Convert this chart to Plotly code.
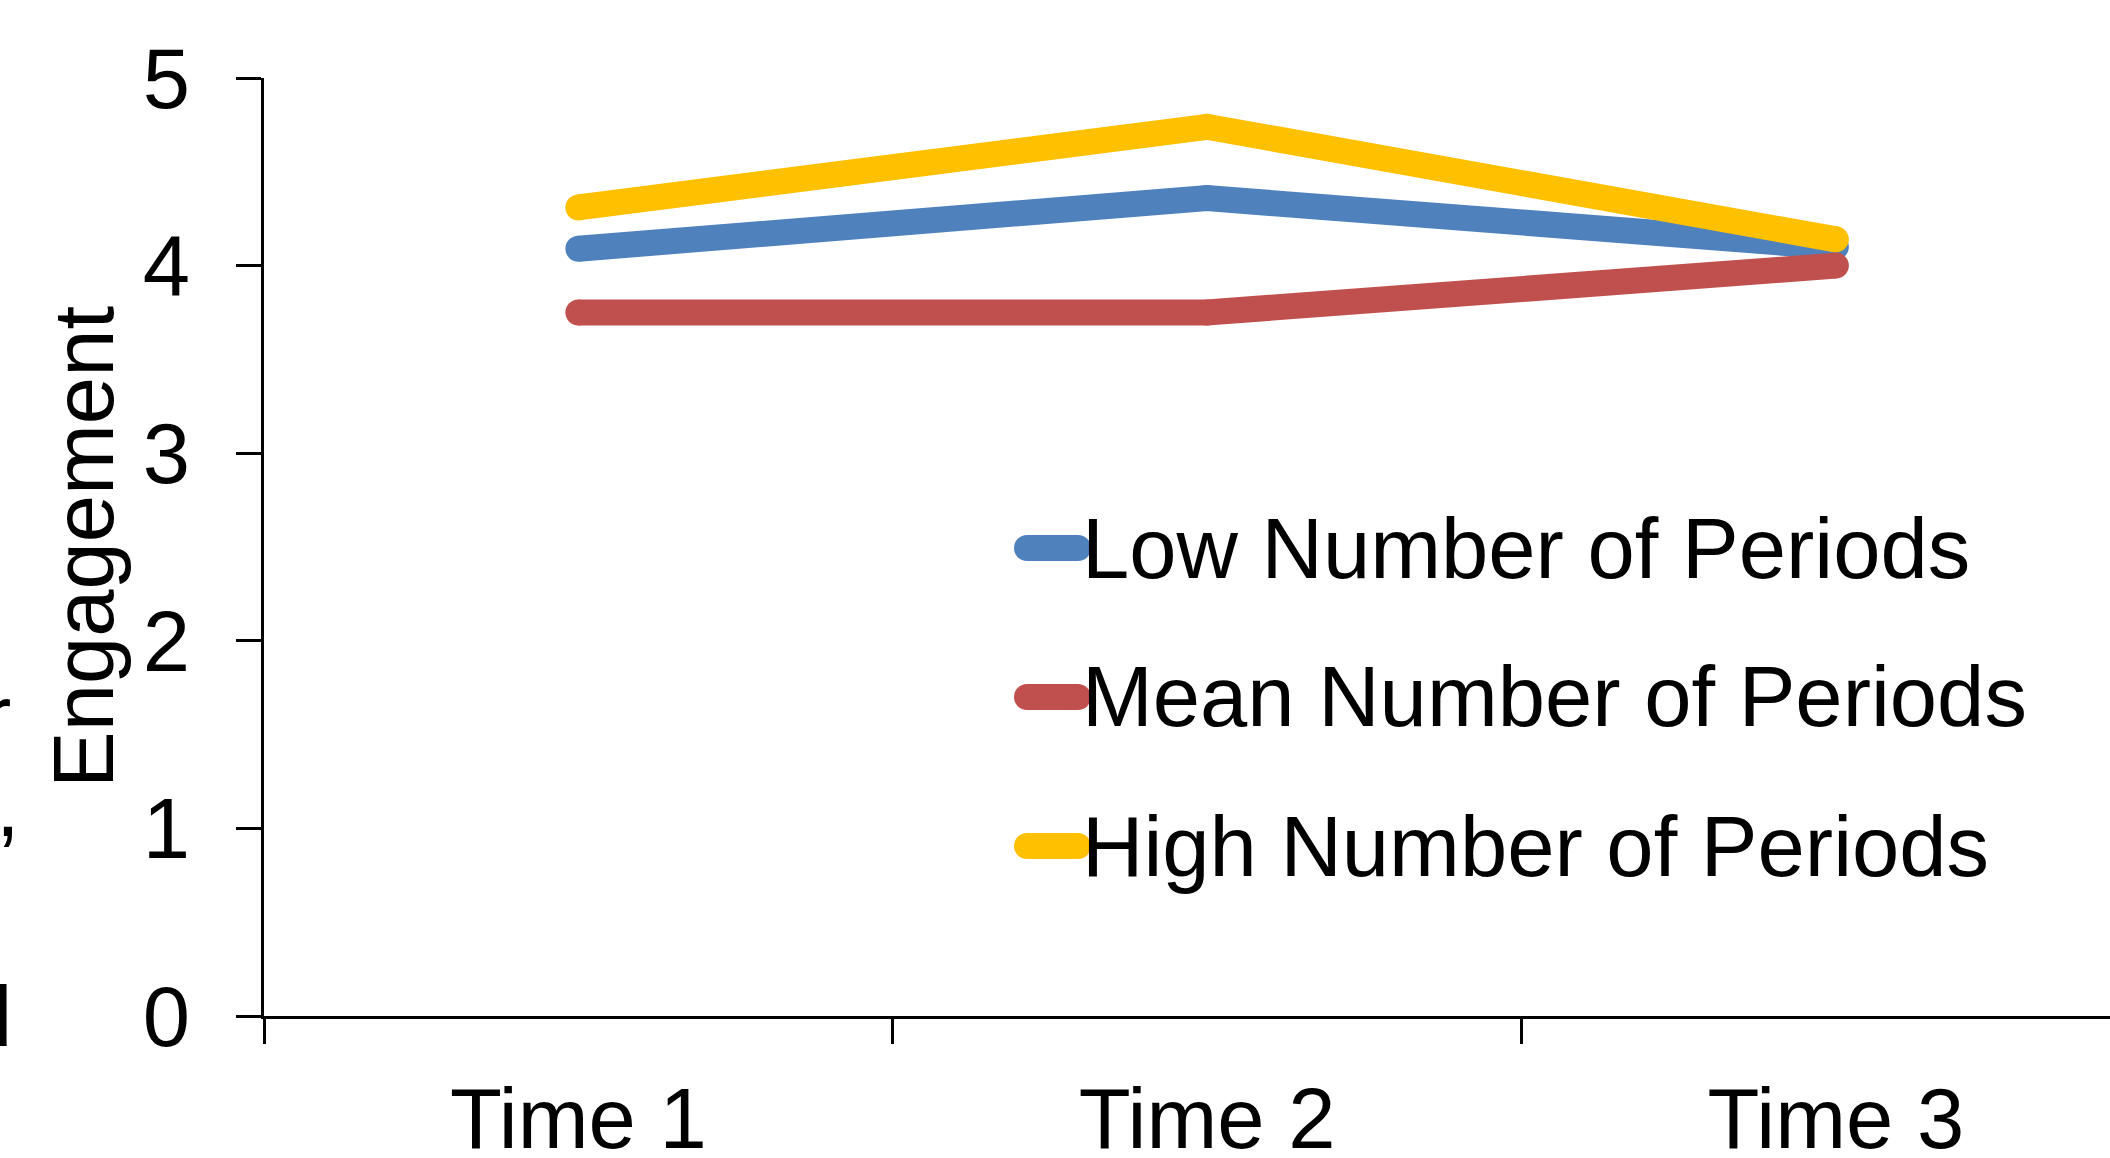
import plotly.graph_objects as go

# ---- data ----
times = ["Time 1", "Time 2", "Time 3"]
series_names = ["Low Number of Periods", "Mean Number of Periods", "High Number of Periods"]
low_vals = [4.09, 4.36, 4.10]
mean_vals = [3.75, 3.75, 4.00]
high_vals = [4.31, 4.74, 4.14]
colors = ["#4F81BD", "#C0504D", "#FFC000"]
y_ticks = [0, 1, 2, 3, 4, 5]

W, H = 2110, 1158
ML, MR, MT, MB = 264, 0, 78, 142
PW, PH = W - ML - MR, H - MT - MB
FONT = "Liberation Sans, Arial, Helvetica, sans-serif"
FS = 85
LW = 26


def px_x(p):
    return (p - ML) / PW


def px_y(p):
    return (H - MB - p) / PH


fig = go.Figure()
for name, vals, col in zip(series_names, [low_vals, mean_vals, high_vals], colors):
    fig.add_trace(go.Scatter(
        x=times, y=vals, name=name, mode="lines+markers",
        line=dict(color=col, width=LW),
        marker=dict(color=col, size=LW, line=dict(width=0)),
        showlegend=False, hoverinfo="skip",
    ))

# manual legend (thick rounded samples)
shapes = []
annotations = []
leg_y = [548, 697, 846]
for name, col, ly in zip(series_names, colors, leg_y):
    x0, x1 = 1027, 1078
    shapes.append(dict(type="line", xref="paper", yref="paper",
                       x0=px_x(x0), x1=px_x(x1), y0=px_y(ly), y1=px_y(ly),
                       line=dict(color=col, width=LW)))
    for cx in (x0, x1):
        shapes.append(dict(type="circle", xref="paper", yref="paper",
                           xsizemode="pixel", ysizemode="pixel",
                           xanchor=px_x(cx), yanchor=px_y(ly),
                           x0=-LW / 2, x1=LW / 2, y0=-LW / 2, y1=LW / 2,
                           fillcolor=col, line=dict(width=0)))
    annotations.append(dict(text=name, xref="paper", yref="paper",
                            x=px_x(1080), y=px_y(ly), xanchor="left", yanchor="middle",
                            showarrow=False, font=dict(family=FONT, size=FS, color="black")))

# cut-off text fragments at the left edge
for txt, rx, cy in [("r", 13, 715), (",", 22, 806), ("d", 14, 1016)]:
    annotations.append(dict(text=txt, xref="paper", yref="paper",
                            x=px_x(rx), y=px_y(cy), xanchor="right", yanchor="middle",
                            showarrow=False, font=dict(family=FONT, size=FS, color="black")))

fig.update_layout(
    width=W, height=H,
    margin=dict(l=ML, r=MR, t=MT, b=MB, pad=0, autoexpand=False),
    paper_bgcolor="white", plot_bgcolor="white",
    font=dict(family=FONT, size=FS, color="black"),
    showlegend=False,
    shapes=shapes, annotations=annotations,
)
fig.update_xaxes(
    type="category", categoryorder="array", categoryarray=times,
    range=[-0.5, (W - MR - ML) / (PW / 2.936) - 0.5],
    showline=True, linecolor="black", linewidth=2.7,
    ticks="outside", tickson="boundaries", ticklen=25, tickwidth=2.7, tickcolor="black",
    showgrid=False, zeroline=False, automargin=False,
    tickfont=dict(family=FONT, size=FS, color="black"),
    ticklabelstandoff=27,
)
fig.update_yaxes(
    range=[0, 5], tickvals=y_ticks,
    showline=True, linecolor="black", linewidth=2.7,
    ticks="outside", ticklen=25, tickwidth=2.7, tickcolor="black",
    showgrid=False, zeroline=False, automargin=False,
    tickfont=dict(family=FONT, size=FS, color="black"),
    ticklabelstandoff=29,
    title=dict(text="Engagement", font=dict(family=FONT, size=FS, color="black"), standoff=2),
)

fig.write_html(
    "out.html",
    config={"displayModeBar": False},
    post_script="document.body.style.margin='0';document.body.style.overflow='hidden';",
)
